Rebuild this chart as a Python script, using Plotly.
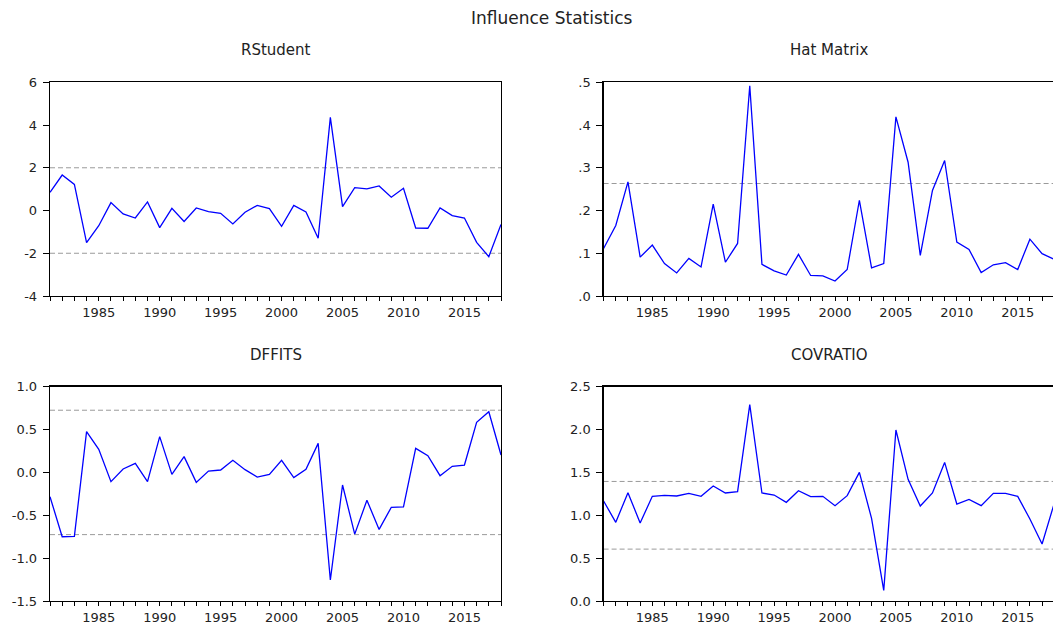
import plotly.graph_objects as go

years = list(range(1981, 2019))

rstudent = [0.85, 1.66, 1.22, -1.50, -0.71, 0.37, -0.16, -0.35, 0.40, -0.80,
            0.10, -0.51, 0.12, -0.05, -0.13, -0.63, -0.08, 0.24, 0.09, -0.74,
            0.24, -0.07, -1.30, 4.36, 0.18, 1.07, 1.01, 1.15, 0.62, 1.04,
            -0.82, -0.83, 0.12, -0.24, -0.35, -1.49, -2.16, -0.65]

hat = [0.111, 0.165, 0.267, 0.091, 0.119, 0.076, 0.054, 0.088, 0.068, 0.215,
       0.079, 0.123, 0.492, 0.074, 0.059, 0.049, 0.0975, 0.048, 0.047, 0.035,
       0.062, 0.224, 0.066, 0.076, 0.419, 0.313, 0.095, 0.247, 0.317, 0.126,
       0.109, 0.055, 0.073, 0.078, 0.062, 0.133, 0.099, 0.086]

dffits = [-0.283, -0.75, -0.745, 0.475, 0.269, -0.108, 0.04, 0.106, -0.108, 0.417,
          -0.023, 0.184, -0.116, 0.016, 0.028, 0.141, 0.032, -0.054, -0.023, 0.141,
          -0.061, 0.036, 0.339, -1.255, -0.147, -0.72, -0.325, -0.665, -0.407, -0.403,
          0.281, 0.195, -0.038, 0.071, 0.086, 0.584, 0.708, 0.203]

covratio = [1.166, 0.918, 1.264, 0.910, 1.221, 1.232, 1.225, 1.256, 1.221, 1.341,
            1.26, 1.275, 2.29, 1.26, 1.236, 1.151, 1.287, 1.217, 1.221, 1.112,
            1.229, 1.50, 0.964, 0.124, 1.995, 1.419, 1.108, 1.26, 1.617, 1.131,
            1.186, 1.112, 1.256, 1.256, 1.221, 0.956, 0.665, 1.14]

titles = ["RStudent", "Hat Matrix", "DFFITS", "COVRATIO"]
series = [rstudent, hat, dffits, covratio]
thresholds = [[2.0, -2.0], [0.2632], [0.7255, -0.7255], [1.3947, 0.6053]]
yranges = [[-4, 6], [0.0, 0.5], [-1.5, 1.0], [0.0, 2.5]]
ytickvals = [[-4, -2, 0, 2, 4, 6], [0, 0.1, 0.2, 0.3, 0.4, 0.5],
             [-1.5, -1.0, -0.5, 0.0, 0.5, 1.0], [0.0, 0.5, 1.0, 1.5, 2.0, 2.5]]
yticktext = [["-4", "-2", "0", "2", "4", "6"], [".0", ".1", ".2", ".3", ".4", ".5"],
             ["-1.5", "-1.0", "-0.5", "0.0", "0.5", "1.0"],
             ["0.0", "0.5", "1.0", "1.5", "2.0", "2.5"]]

W, H = 1053, 625
xdom = [[50 / W, 501 / W], [603.6 / W, 1.0], [50 / W, 501 / W], [603.6 / W, 1.0]]
ydom = [[1 - 296 / H, 1 - 82.3 / H], [1 - 296 / H, 1 - 82.3 / H],
        [1 - 601 / H, 1 - 386.7 / H], [1 - 601 / H, 1 - 386.7 / H]]
xend = [2018, 1981 + (W - 603.6) / 12.18, 2018, 1981 + (W - 603.6) / 12.18]
title_cx = [275.5, 829, 275.5, 829]

FONT = "DejaVu Sans, Liberation Sans, Arial, sans-serif"
TC = "#222222"
fig = go.Figure()
layout = dict(width=W, height=H, margin=dict(l=0, r=0, t=0, b=0, autoexpand=False),
              paper_bgcolor="white", plot_bgcolor="white", showlegend=False,
              font=dict(family=FONT, size=13, color=TC))
shapes = []
annotations = []
for i in range(4):
    n = "" if i == 0 else str(i + 1)
    xa, ya = "x" + n, "y" + n
    fig.add_trace(go.Scatter(x=years, y=series[i], mode="lines",
                             line=dict(color="#0000FF", width=1.3),
                             xaxis=xa, yaxis=ya, hoverinfo="skip"))
    left = i % 2 == 0
    layout["xaxis" + n] = dict(domain=xdom[i], anchor=ya, range=[1981, xend[i]],
                               tickmode="linear", tick0=1985, dtick=5,
                               ticks="outside", ticklen=4, tickcolor="black",
                               tickwidth=1,
                               showline=True, linecolor="black", linewidth=1.3,
                               mirror=True, showgrid=False, zeroline=False,
                               tickfont=dict(size=13, family=FONT, color=TC),
                               minor=dict(dtick=1, tick0=1981, ticks="outside",
                                          ticklen=4, tickcolor="black", showgrid=False))
    layout["yaxis" + n] = dict(domain=ydom[i], anchor=xa, range=yranges[i],
                               tickmode="array", tickvals=ytickvals[i],
                               ticktext=yticktext[i],
                               ticks="outside", ticklen=6, tickcolor="black",
                               tickwidth=1, ticklabelstandoff=3,
                               showline=True, linecolor="black", linewidth=1.3,
                               mirror=left, showgrid=False, zeroline=False,
                               tickfont=dict(size=13, family=FONT, color=TC))
    for t in thresholds[i]:
        shapes.append(dict(type="line", xref=xa + " domain", yref=ya,
                           x0=0, x1=1, y0=t, y1=t,
                           line=dict(color="#9a9a9a", width=1, dash="5px,3px"),
                           layer="below"))
    annotations.append(dict(text=titles[i], xref="paper", yref="paper",
                            x=title_cx[i] / W,
                            y=ydom[i][1] + 32 / H, xanchor="center", yanchor="middle",
                            showarrow=False, font=dict(size=15, family=FONT, color=TC)))
annotations.append(dict(text="Influence Statistics", xref="paper", yref="paper",
                        x=552 / W, y=1 - 17.5 / H, xanchor="center", yanchor="middle",
                        showarrow=False, font=dict(size=17, family=FONT, color=TC)))
layout["shapes"] = shapes
layout["annotations"] = annotations
fig.update_layout(**layout)
fig.write_html("out.html",
               config={"displayModeBar": False, "staticPlot": True},
               post_script="document.body.style.margin='0';"
                           "document.body.style.overflow='hidden';"
                           "document.documentElement.style.overflow='hidden';")
